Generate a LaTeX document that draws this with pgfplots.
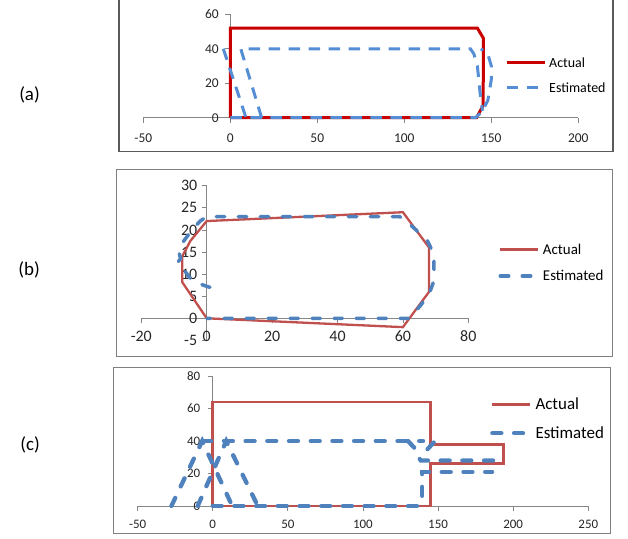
\documentclass[border=0pt]{standalone}
\usepackage{fontspec}
\setmainfont{Carlito}
\usepackage{pgfplots}
\pgfplotsset{compat=1.18}
\definecolor{redA}{RGB}{200,0,0}
\definecolor{blueA}{RGB}{85,142,213}
\definecolor{redB}{RGB}{192,80,77}
\definecolor{blueB}{RGB}{79,129,189}
\definecolor{axgray}{RGB}{134,134,134}
\definecolor{boxgray}{RGB}{128,128,128}
\definecolor{boxdark}{RGB}{90,90,90}
\pgfplotsset{
  panel/.style={
    scale only axis,
    axis lines=middle,
    axis line style={draw=axgray, line width=0.8bp, -},
    every inner x axis line/.append style={-},
    every inner y axis line/.append style={-},
    tick style={draw=axgray, line width=0.8bp},
    tick align=outside,
    major tick length=5bp,
    hide obscured x ticks=false,
    hide obscured y ticks=false,
    clip=false,
    anchor=south west,
    /pgf/number format/assume math mode=true,
    ticklabel style={text=black!85},
    legend cell align=left,
    legend style={draw=none, fill=none, anchor=west, inner sep=0pt, column sep=0pt},
    legend image code/.code={\draw[##1] (0bp,0bp) -- (38bp,0bp);},
  }
}
\begin{document}
\begin{tikzpicture}
\useasboundingbox (0bp,0bp) rectangle (628bp,-539bp);
% boxes
\draw[boxdark, line width=1.4bp] (119bp,5bp) rectangle (613bp,-151.7bp);
\draw[boxgray, line width=1bp] (116.7bp,-169bp) rectangle (612.3bp,-356bp);
\draw[boxgray, line width=1bp] (113.3bp,-367.3bp) rectangle (610bp,-533.3bp);
% panel labels
\node[anchor=east, font=\fontsize{19}{21}\selectfont, inner sep=0pt] at (40bp,-95bp) {(a)};
\node[anchor=east, font=\fontsize{19}{21}\selectfont, inner sep=0pt] at (40bp,-270bp) {(b)};
\node[anchor=east, font=\fontsize{19}{21}\selectfont, inner sep=0pt] at (40bp,-445bp) {(c)};

% ---------------- (a)
\begin{axis}[panel,
  at={(143.3bp,-117.7bp)}, width=435bp, height=103.4bp,
  xmin=-50, xmax=200, ymin=0, ymax=60,
  xtick={-50,0,50,100,150,200}, ytick={0,20,40,60},
  ticklabel style={font=\fontsize{13.5}{15}\selectfont},
  xticklabel style={yshift=-8bp},
  yticklabel style={xshift=-3bp},
  legend style={at={(0.8315,0.411)}, row sep=12.6bp,
    font=\fontsize{14}{16}\selectfont,
    nodes={inner sep=0pt, inner xsep=3bp, text height=10.5bp, text depth=1.4bp}},
  legend entries={Actual,Estimated},
]
\addplot[redA, line width=3bp, line join=miter] coordinates {
 (0,0) (0,52) (142,52) (145.5,46) (145.3,7) (141.5,0) (0,0)};
\addplot[blueA, line width=3bp, dash pattern=on 11.5bp off 8.5bp] coordinates {
 (0,0) (141,0) (145,4) (148,10) (150,22) (150,30) (148,37) (144,40)};
\addplot[blueA, line width=3bp, dash pattern=on 11.5bp off 8.5bp, forget plot] coordinates {
 (18,0) (6,40) (138,40) (140,37) (142,30) (143,20) (144,10) (145,4)};
\addplot[blueA, line width=3bp, dash pattern=on 11.5bp off 8.5bp, forget plot] coordinates {
 (-4,40) (9,0)};
\end{axis}

% ---------------- (b)
\begin{axis}[panel,
  at={(141.3bp,-340.4bp)}, width=327bp, height=154.7bp,
  xmin=-20, xmax=80, ymin=-5, ymax=30,
  xtick={-20,0,20,40,60,80}, ytick={-5,0,5,10,15,20,25,30},
  ticklabel style={font=\fontsize{16}{18}\selectfont},
  xticklabel style={yshift=-4bp},
  yticklabel style={xshift=-1bp},
  legend style={at={(1.0917,0.502)}, row sep=14bp,
    font=\fontsize{15}{17}\selectfont,
    nodes={inner sep=0pt, inner xsep=3bp, text height=11.2bp, text depth=1.5bp}},
  legend entries={Actual,Estimated},
]
\addplot[redB, line width=2.3bp, line join=miter] coordinates {
 (0,0) (60,-2) (68,6) (68,16) (60,24) (0,22) (-5,17.5) (-7.5,14) (-7.5,8.2) (0,0)};
\addplot[blueB, line width=3.5bp, line cap=round, dash pattern=on 8.5bp off 13.5bp] coordinates {
 (1,7) (-1,7.5) (-3,8) (-5,9) (-6.5,10.5) (-8,11.5) (-9,12.5) (-8,13.5) (-8.5,15)
 (-8,16.5) (-6.5,18) (-4.5,20) (-2,22) (0,23) (59,23) (61,22) (64,20) (67.5,17.5)
 (69.5,14.5) (69.5,8.5) (68,5.5) (65.5,3) (62,0) (0,0)};
\end{axis}

% ---------------- (c)
\begin{axis}[panel,
  at={(137.6bp,-506bp)}, width=450.7bp, height=130bp,
  xmin=-50, xmax=250, ymin=0, ymax=80,
  xtick={-50,0,50,100,150,200,250}, ytick={0,20,40,60,80},
  ticklabel style={font=\fontsize{13}{15}\selectfont},
  xticklabel style={yshift=-6bp},
  yticklabel style={xshift=-4bp},
  legend style={at={(0.7819,0.671)}, row sep=14.5bp,
    font=\fontsize{17}{19}\selectfont,
    nodes={inner sep=0pt, inner xsep=3bp, text height=12.7bp, text depth=1.7bp}},
  legend entries={Actual,Estimated},
]
\addplot[redB, line width=2.8bp, line join=miter] coordinates {
 (0,0) (0,64) (145,64) (145,38) (193.5,38) (193.5,26) (145,26) (145,0) (0,0)};
\addplot[blueB, line width=4.3bp, line cap=round, dash pattern=on 9bp off 12.7bp] coordinates {
 (-7,40) (140,40)};
\addplot[blueB, line width=4.3bp, line cap=round, dash pattern=on 9bp off 12.7bp, forget plot] coordinates {
 (-27.5,0) (-7,40) (13,0)};
\addplot[blueB, line width=4.3bp, line cap=round, dash pattern=on 9bp off 12.7bp, forget plot] coordinates {
 (-10,0) (9,40) (30,0)};
\addplot[blueB, line width=4.3bp, line cap=round, dash pattern=on 9bp off 12.7bp, forget plot] coordinates {
 (130,40) (134,36) (137,30) (138.5,28) (188,28)};
\addplot[blueB, line width=4.3bp, line cap=round, dash pattern=on 9bp off 12.7bp, forget plot] coordinates {
 (0,0) (137,0) (139.5,4) (139.5,21) (186,21)};
\addplot[blueB, line width=4.3bp, line cap=round, dash pattern=on 9bp off 12.7bp, forget plot] coordinates {
 (143,35) (149,41)};
\end{axis}
\end{tikzpicture}
\end{document}
